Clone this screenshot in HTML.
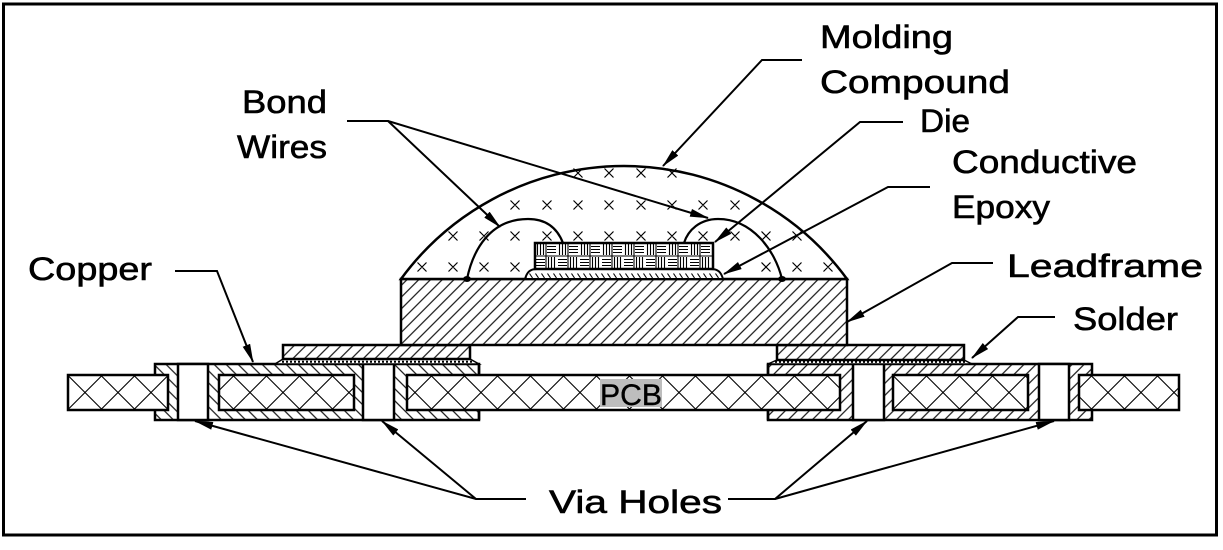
<!DOCTYPE html>
<html><head><meta charset="utf-8"><style>
html,body{margin:0;padding:0;background:#fff;}
svg{display:block;}
text{font-family:"Liberation Sans",sans-serif;fill:#000;}
</style></head><body>
<svg width="1223" height="550" viewBox="0 0 1223 550" xmlns="http://www.w3.org/2000/svg">
<defs>
<pattern id="xh" patternUnits="userSpaceOnUse" x="68.5" y="376" width="33" height="33">
<path d="M0,0L33,33M33,0L0,33" stroke="#000" stroke-width="1.1" fill="none"/>
</pattern>
<pattern id="hf" patternUnits="userSpaceOnUse" width="8.3" height="8.3" patternTransform="rotate(45)">
<line x1="4.15" y1="-1" x2="4.15" y2="9.3" stroke="#000" stroke-width="1.1"/>
</pattern>
<pattern id="hb" patternUnits="userSpaceOnUse" width="8.5" height="8.5" patternTransform="rotate(-45)">
<line x1="4.25" y1="-1" x2="4.25" y2="9.5" stroke="#000" stroke-width="1.1"/>
</pattern>
<pattern id="hr" patternUnits="userSpaceOnUse" width="8.5" height="8.5" patternTransform="rotate(45)">
<line x1="4.25" y1="-1" x2="4.25" y2="9.5" stroke="#000" stroke-width="1.1"/>
</pattern>
<pattern id="tick" patternUnits="userSpaceOnUse" x="0" y="269" width="6" height="10">
<path d="M1.5,4.5L4.5,9" stroke="#000" stroke-width="1.1"/>
</pattern>
<pattern id="weave" patternUnits="userSpaceOnUse" x="535" y="243" width="22" height="26">
<path d="M2.5,1V12M5.5,1V12M8.5,1V12M12,3.5H21M12,6.5H21M12,9.5H21M1,16.5H10M1,19.5H10M1,22.5H10M13.5,14V25M16.5,14V25M19.5,14V25M0,13H22M11,0V26" stroke="#000" stroke-width="1.1" fill="none"/>
</pattern>
<marker id="ar" viewBox="0 0 19 8" refX="18" refY="4" markerWidth="19" markerHeight="8" markerUnits="userSpaceOnUse" orient="auto">
<path d="M0,0L19,4L0,8z" fill="#000"/>
</marker>
</defs>

<rect x="0" y="0" width="1223" height="550" fill="#fff"/>
<rect x="3.5" y="4" width="1213" height="531" fill="none" stroke="#000" stroke-width="3"/>

<!-- Copper regions -->
<rect x="155" y="364" width="324" height="56" fill="#fff"/>
<rect x="155" y="364" width="324" height="56" fill="url(#hb)" stroke="#000" stroke-width="2.5"/>
<rect x="768" y="364" width="324" height="56" fill="#fff"/>
<rect x="768" y="364" width="324" height="56" fill="url(#hr)" stroke="#000" stroke-width="2.5"/>

<!-- Via holes -->
<g fill="#fff" stroke="#000" stroke-width="2.5">
<rect x="178" y="364" width="30" height="56"/>
<rect x="363" y="364" width="31" height="56"/>
<rect x="853" y="364" width="31" height="56"/>
<rect x="1039" y="364" width="30" height="56"/>
</g>

<!-- PCB pieces -->
<g>
<rect x="68" y="375" width="100" height="35" fill="#fff"/>
<rect x="219" y="375" width="135" height="35" fill="#fff"/>
<rect x="407" y="375" width="433" height="35" fill="#fff"/>
<rect x="893" y="375" width="135" height="35" fill="#fff"/>
<rect x="1079" y="375" width="100" height="35" fill="#fff"/>
</g>
<g fill="url(#xh)" stroke="#000" stroke-width="2.5">
<rect x="68" y="375" width="100" height="35"/>
<rect x="219" y="375" width="135" height="35"/>
<rect x="407" y="375" width="433" height="35"/>
<rect x="893" y="375" width="135" height="35"/>
<rect x="1079" y="375" width="100" height="35"/>
</g>
<line x1="479" y1="364" x2="479" y2="375" stroke="#000" stroke-width="2.5"/>
<line x1="479" y1="410" x2="479" y2="420" stroke="#000" stroke-width="2.5"/>
<line x1="768" y1="364" x2="768" y2="375" stroke="#000" stroke-width="2.5"/>
<line x1="768" y1="410" x2="768" y2="420" stroke="#000" stroke-width="2.5"/>

<!-- PCB label -->
<rect x="600" y="379" width="62" height="28" fill="#bdbdbd"/>
<text x="600" y="405" font-size="30" textLength="62" lengthAdjust="spacingAndGlyphs" stroke="#000" stroke-width="0.4">PCB</text>

<!-- Solder -->
<path d="M275,364L283,359L470,359L479,364Z" fill="#fff" stroke="#000" stroke-width="1.5"/>
<path d="M768,364L777,360L964,360L972,364Z" fill="#fff" stroke="#000" stroke-width="1.5"/>
<line x1="282" y1="361.7" x2="472" y2="361.7" stroke="#000" stroke-width="2" stroke-dasharray="2,2"/>
<line x1="775" y1="361.9" x2="966" y2="361.9" stroke="#000" stroke-width="2" stroke-dasharray="2,2"/>

<!-- Pads -->
<rect x="283" y="345" width="187" height="14" fill="#fff"/>
<rect x="283" y="345" width="187" height="14" fill="url(#hf)" stroke="#000" stroke-width="2.5"/>
<rect x="777" y="345" width="187" height="15" fill="#fff"/>
<rect x="777" y="345" width="187" height="15" fill="url(#hf)" stroke="#000" stroke-width="2.5"/>

<!-- Leadframe block -->
<rect x="401" y="279" width="446" height="66" fill="#fff"/>
<rect x="401" y="279" width="446" height="66" fill="url(#hf)" stroke="#000" stroke-width="2.5"/>

<!-- Dome -->
<path d="M401,279 A276.5,276.5 0 0 1 847,279 Z" fill="#fff" stroke="#000" stroke-width="2.5"/>

<!-- X marks -->
<g stroke="#000" stroke-width="1.2">
<path d="M573.5,168.5l9,9m0,-9l-9,9 M604.5,168.5l9,9m0,-9l-9,9 M636.5,168.5l9,9m0,-9l-9,9 M667.5,168.5l9,9m0,-9l-9,9"/>
<path d="M510.5,200.5l9,9m0,-9l-9,9 M542.5,200.5l9,9m0,-9l-9,9 M573.5,200.5l9,9m0,-9l-9,9 M604.5,200.5l9,9m0,-9l-9,9 M636.5,200.5l9,9m0,-9l-9,9 M667.5,200.5l9,9m0,-9l-9,9 M698.5,200.5l9,9m0,-9l-9,9 M730.5,200.5l9,9m0,-9l-9,9"/>
<path d="M448.5,231.5l9,9m0,-9l-9,9 M479.5,231.5l9,9m0,-9l-9,9 M510.5,231.5l9,9m0,-9l-9,9 M542.5,231.5l9,9m0,-9l-9,9 M573.5,231.5l9,9m0,-9l-9,9 M604.5,231.5l9,9m0,-9l-9,9 M636.5,231.5l9,9m0,-9l-9,9 M667.5,231.5l9,9m0,-9l-9,9 M698.5,231.5l9,9m0,-9l-9,9 M730.5,231.5l9,9m0,-9l-9,9 M761.5,231.5l9,9m0,-9l-9,9 M792.5,231.5l9,9m0,-9l-9,9"/>
<path d="M417.5,262.5l9,9m0,-9l-9,9 M448.5,262.5l9,9m0,-9l-9,9 M479.5,262.5l9,9m0,-9l-9,9 M510.5,262.5l9,9m0,-9l-9,9 M761.5,262.5l9,9m0,-9l-9,9 M792.5,262.5l9,9m0,-9l-9,9 M823.5,262.5l9,9m0,-9l-9,9"/>
</g>

<!-- Epoxy -->
<path d="M525,279 C527,272 530,269 537,269 L711,269 C718,269 721,272 723,279 Z" fill="#fff"/>
<path d="M525,279 C527,272 530,269 537,269 L711,269 C718,269 721,272 723,279 Z" fill="url(#tick)" stroke="#000" stroke-width="2"/>

<!-- Die -->
<rect x="535" y="243" width="178" height="26" fill="#fff"/>
<rect x="535" y="243" width="178" height="26" fill="url(#weave)" stroke="#000" stroke-width="2.5"/>

<!-- Bond wires -->
<g fill="none" stroke="#000" stroke-width="2.2">
<path d="M467,279 C473,250 490,219 528,219 C548,219 558,230 563,243"/>
<path d="M684,243 C688,230 700,219 718,219 C752,219 775,250 782,279"/>
</g>
<ellipse cx="467" cy="279" rx="4" ry="3" fill="#000"/>
<ellipse cx="782" cy="279" rx="4" ry="3" fill="#000"/>

<!-- Leaders -->
<g fill="none" stroke="#000" stroke-width="2">
<path d="M802,60H762L663,166" marker-end="url(#ar)"/>
<path d="M347,121H388L500,227" marker-end="url(#ar)"/>
<path d="M388,121L708,218" marker-end="url(#ar)"/>
<path d="M903,122H860L715,242" marker-end="url(#ar)"/>
<path d="M930,187H888L724,274" marker-end="url(#ar)"/>
<path d="M175,271H217L253,362" marker-end="url(#ar)"/>
<path d="M993,263H952L847,322" marker-end="url(#ar)"/>
<path d="M1055,317H1018L972,358" marker-end="url(#ar)"/>
<path d="M526,499H476L195,421" marker-end="url(#ar)"/>
<path d="M476,499L382,421" marker-end="url(#ar)"/>
<path d="M728,499H775L867,421" marker-end="url(#ar)"/>
<path d="M775,499L1054,421" marker-end="url(#ar)"/>
</g>

<!-- Labels -->
<g font-size="32" stroke="#000" stroke-width="0.6">
<text x="820" y="48" textLength="133" lengthAdjust="spacingAndGlyphs">Molding</text>
<text x="820" y="93" textLength="190" lengthAdjust="spacingAndGlyphs">Compound</text>
<text x="920" y="132" textLength="50" lengthAdjust="spacingAndGlyphs">Die</text>
<text x="952" y="173" textLength="185" lengthAdjust="spacingAndGlyphs">Conductive</text>
<text x="952" y="218" textLength="98" lengthAdjust="spacingAndGlyphs">Epoxy</text>
<text x="242" y="113" textLength="85" lengthAdjust="spacingAndGlyphs">Bond</text>
<text x="237" y="158" textLength="90" lengthAdjust="spacingAndGlyphs">Wires</text>
<text x="28" y="280" textLength="124" lengthAdjust="spacingAndGlyphs">Copper</text>
<text x="1007" y="277" textLength="196" lengthAdjust="spacingAndGlyphs">Leadframe</text>
<text x="1073" y="330" textLength="105" lengthAdjust="spacingAndGlyphs">Solder</text>
<text x="549" y="513" textLength="173" lengthAdjust="spacingAndGlyphs">Via  Holes</text>
</g>
</svg>
</body></html>
